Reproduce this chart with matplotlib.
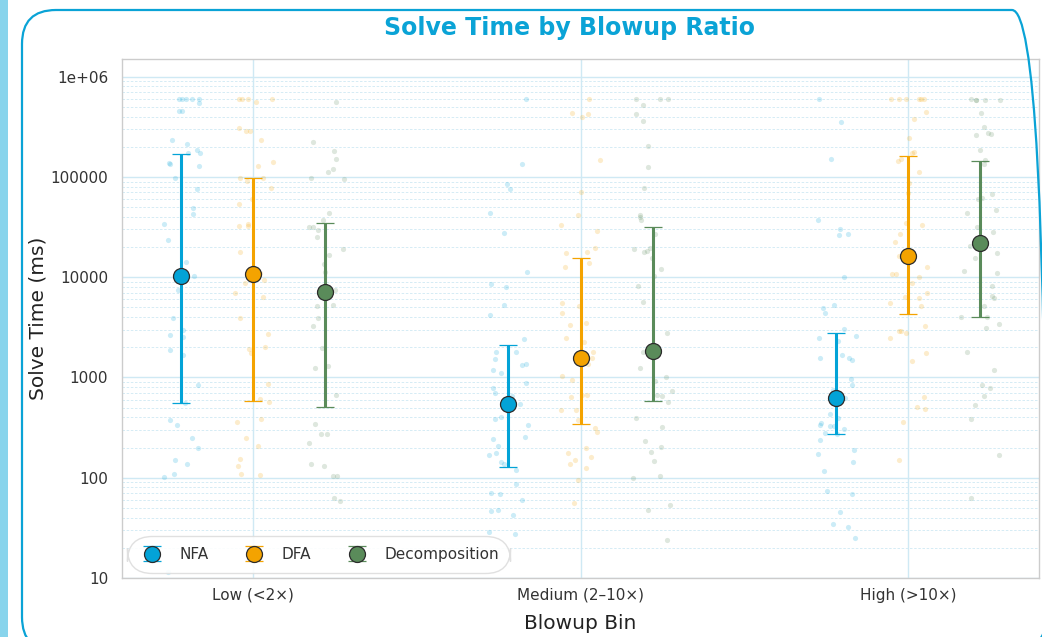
import matplotlib
matplotlib.use("Agg")
import matplotlib.pyplot as plt
from matplotlib.patches import FancyBboxPatch, Rectangle
from matplotlib.transforms import IdentityTransform
import numpy as np

plt.rcParams['font.family'] = ['DejaVu Sans']

# ---------------- data ----------------
categories = ["Low (<2×)", "Medium (2–10×)", "High (>10×)"]
series_names = ["NFA", "DFA", "Decomposition"]

nfa_mean = [10260, 541, 621]
nfa_lo = [562, 128, 274]
nfa_hi = [171000, 2100, 2770]
dfa_mean = [10850, 1580, 16100]
dfa_lo = [589, 340, 4260]
dfa_hi = [98000, 15600, 162000]
dec_mean = [7110, 1840, 22100]
dec_lo = [505, 589, 4010]
dec_hi = [34400, 31600, 144600]

# individual observations (ms) and their horizontal jitter (category units)
nfa_low_vals = [600000, 600000, 600000, 600000, 600000, 542000, 458000, 458000, 234000, 212000,
                187000, 172000, 172000, 139000, 135000, 130000, 98600, 75500, 49200, 42900,
                33800, 23400, 14100, 10200, 7390, 3950, 3000, 2630, 2530, 1900, 1690, 841, 557,
                377, 334, 248, 200, 151, 137, 110, 101, 11.5]
nfa_low_jit = [-0.005, 0.004, 0.015, 0.035, 0.056, 0.056, -0.005, 0.004, -0.027, 0.017,
               0.048, 0.058, 0.022, -0.037, -0.034, 0.056, -0.018, 0.049, 0.036, 0.036,
               -0.052, -0.040, 0.015, 0.039, -0.008, -0.025, 0.007, -0.034, 0.005, -0.034, 0.005,
               0.051, 0.012, -0.034, -0.013, 0.033, 0.053, -0.017, 0.018, -0.020, -0.053, -0.040]
dfa_low_vals = [600000, 600000, 600000, 600000, 564000, 305000, 288000, 288000, 234000, 140000,
                130000, 98600, 91400, 97800, 77300, 60000, 54300, 32300, 33800, 32300, 17700,
                11000, 8810, 9290, 6900, 6400, 3890, 2690, 1940, 1990, 1760, 869, 611, 570, 389,
                358, 250, 206, 152, 130, 110, 107]
dfa_low_jit = [-0.042, -0.035, -0.015, 0.058, 0.009, -0.042, -0.022, -0.010, 0.025, 0.060,
               0.016, -0.040, -0.018, 0.030, 0.056, -0.004, -0.044, -0.042, -0.016, -0.016, -0.040,
               0.021, -0.024, 0.035, -0.056, 0.032, -0.040, 0.047, -0.012, 0.036, -0.005, 0.047,
               0.021, 0.048, 0.023, -0.050, -0.021, 0.014, -0.041, -0.045, -0.036, 0.022]
dec_low_vals = [564000, 224000, 180000, 150000, 121000, 111000, 97800, 94800, 43900, 36800,
                31500, 32000, 29400, 25300, 18900, 16500, 13600, 11200, 7390, 5150, 5240, 3950,
                3290, 1970, 1240, 1300, 670, 342, 276, 276, 223, 137, 130, 103, 103, 62.2, 58.5]
dec_low_jit = [0.034, -0.036, 0.028, 0.032, 0.023, 0.008, -0.043, 0.057, 0.011, -0.007,
               -0.049, -0.036, -0.022, -0.025, 0.054, 0.012, -0.003, 0.000, 0.031, -0.025, 0.025,
               -0.022, -0.036, -0.010, -0.031, 0.010, 0.034, -0.031, -0.011, 0.005, -0.048, -0.042,
               -0.002, 0.025, 0.036, 0.028, 0.046]

nfa_med_vals = [600000, 136000, 85900, 76000, 43900, 27700, 11200, 8530, 8030, 5240, 4170, 2400,
                1800, 1800, 1520, 1320, 1360, 1200, 1100, 890, 785, 701, 650, 545, 384, 404, 334,
                242, 253, 206, 177, 169, 142, 136, 119, 86.9, 69.8, 68.7, 59.8, 46.1, 47.9, 42.1,
                28.7, 27.4]
nfa_med_jit = [0.055, 0.041, -0.005, 0.004, -0.057, -0.014, 0.056, -0.052, -0.006, -0.014, -0.056,
               0.047, -0.037, 0.023, -0.040, 0.042, 0.055, -0.048, -0.023, 0.054, -0.047, -0.041,
               0.011, 0.035, -0.040, -0.023, 0.059, -0.048, 0.050, -0.033, -0.037, -0.059, -0.024,
               -0.014, 0.024, 0.022, -0.052, -0.026, 0.040, -0.054, -0.031, 0.015, -0.058, 0.021]
dfa_med_vals = [600000, 434000, 400000, 428000, 147000, 70900, 41600, 32800, 28800, 19500, 17500,
                17800, 13800, 12600, 5510, 5110, 4350, 3340, 3520, 2470, 2260, 1810, 1560, 1350,
                1030, 944, 645, 670, 670, 479, 474, 375, 310, 284, 199, 177, 160, 149, 138, 124,
                94, 56.2]
dfa_med_jit = [0.026, -0.027, 0.005, 0.024, 0.060, 0.003, -0.008, -0.060, 0.050, 0.044, -0.043,
               0.021, 0.027, -0.048, -0.055, -0.004, -0.056, -0.033, 0.018, -0.043, 0.010, 0.038,
               0.036, 0.023, -0.056, -0.027, -0.030, 0.005, 0.021, -0.059, -0.013, -0.009, 0.043,
               0.050, 0.016, -0.039, 0.033, -0.018, -0.032, 0.016, -0.007, -0.019]
dec_med_vals = [600000, 600000, 600000, 518000, 428000, 365000, 205000, 126000, 77900, 41600,
                40100, 37100, 26700, 18900, 17800, 18300, 19500, 15500, 12200, 10200, 8220, 5680,
                2750, 1810, 1240, 1020, 924, 734, 665, 650, 566, 393, 319, 233, 203, 180, 147,
                99.1, 105, 53, 47.2, 23.7]
dec_med_jit = [-0.052, 0.024, 0.046, -0.030, -0.052, -0.028, -0.013, -0.014, -0.025, -0.039,
               -0.039, -0.034, 0.007, -0.058, -0.025, -0.016, -0.008, -0.001, 0.026, 0.005, -0.044,
               -0.030, 0.043, -0.030, -0.038, 0.041, 0.007, 0.059, 0.015, 0.030, 0.046, -0.050,
               0.028, -0.024, 0.027, -0.006, 0.004, -0.059, 0.022, 0.053, -0.013, 0.044]

nfa_high_vals = [600000, 357000, 152000, 37100, 30400, 26100, 27100, 10000, 4920, 4420, 5270,
                 3020, 2450, 2300, 2570, 1550, 1660, 1560, 1480, 960, 841, 757, 625, 430, 398, 352,
                 332, 329, 329, 307, 282, 272, 240, 187, 174, 142, 118, 73.6, 68.7, 45.4, 34.3,
                 32, 24.8]
nfa_high_jit = [-0.052, 0.014, -0.015, -0.054, 0.012, 0.008, 0.037, 0.026, -0.039, -0.032, -0.005,
                0.025, -0.052, 0.007, 0.062, -0.049, 0.017, 0.041, 0.048, 0.045, 0.048, -0.010,
                0.028, -0.019, 0.007, -0.047, -0.050, -0.017, -0.005, 0.026, -0.033, 0.002, -0.048,
                0.056, -0.056, 0.052, -0.038, -0.026, 0.050, 0.013, -0.009, 0.038, 0.058]
dfa_high_vals = [600000, 600000, 600000, 600000, 600000, 600000, 441000, 379000, 247000, 174000,
                 178000, 145000, 152000, 112000, 87300, 69900, 34600, 33300, 26900, 22600, 16200,
                 12600, 10700, 10700, 10000, 8730, 6900, 6300, 6150, 5480, 5200, 2930, 2880, 2800,
                 3260, 2470, 1760, 1460, 635, 508, 482, 361, 149]
dfa_high_jit = [-0.053, -0.028, -0.005, 0.035, 0.040, 0.048, 0.056, 0.017, 0.004, 0.011, 0.019,
                -0.032, -0.022, 0.033, 0.004, 0.000, -0.005, 0.044, -0.023, -0.041, -0.026, 0.058,
                -0.049, -0.037, 0.034, 0.012, 0.059, -0.010, 0.034, -0.056, 0.040, -0.028, -0.020,
                -0.005, 0.053, -0.054, 0.054, 0.011, 0.049, 0.027, 0.053, -0.014, -0.026]
dec_high_vals = [600000, 590000, 590000, 580000, 590000, 438000, 318000, 260000, 277000, 268000,
                 185000, 135000, 148000, 66800, 60000, 61900, 47300, 43500, 31500, 28100, 20700,
                 17500, 15700, 11600, 10900, 8150, 6440, 6150, 5110, 3980, 3980, 3110, 3410, 1780,
                 1190, 841, 792, 660, 537, 386, 167, 62.2]
dec_high_jit = [-0.028, -0.012, 0.014, -0.011, 0.060, 0.004, 0.011, -0.012, 0.023, 0.034, -0.001,
                0.011, 0.015, 0.037, -0.007, 0.006, 0.048, -0.041, -0.009, 0.040, -0.030, 0.052,
                -0.016, -0.049, 0.053, 0.036, 0.037, 0.044, 0.011, -0.058, 0.022, 0.018, 0.059,
                -0.041, 0.044, 0.007, 0.030, 0.011, -0.016, -0.027, 0.057, -0.028]

ytick_values = [10, 100, 1000, 10000, 100000, 1000000]
ytick_labels = ["10", "100", "1000", "10000", "100000", "1e+06"]

# ---------------- styling ----------------
colors = ["#03A3D7", "#F4A300", "#5A8B5A"]
offsets = [-0.22, 0.0, 0.22]
grid_col = "#cfe9f4"

W, H = 1042, 637
fig = plt.figure(figsize=(W / 100, H / 100), dpi=100)
fig.patch.set_facecolor("white")

# left accent strip and rounded frame (pixel coordinates)
fig.add_artist(Rectangle((0, 0), 8, H, transform=IdentityTransform(),
                         facecolor="#88D4EC", edgecolor="none", zorder=0))
fig.add_artist(FancyBboxPatch((22, -14), 1024, H - 10 + 14, transform=IdentityTransform(),
                              boxstyle="round,pad=0,rounding_size=34", facecolor="none",
                              edgecolor="#0AA3D6", linewidth=1.6, zorder=1))

ax = fig.add_axes([122 / W, 59 / H, (1039 - 122) / W, (578 - 59) / H])
ax.set_yscale("log")
ax.set_ylim(10, 1.5e6)
ax.set_xlim(-0.4, 2.4)

means = [nfa_mean, dfa_mean, dec_mean]
los = [nfa_lo, dfa_lo, dec_lo]
his = [nfa_hi, dfa_hi, dec_hi]
points = [
    [(nfa_low_vals, nfa_low_jit), (nfa_med_vals, nfa_med_jit), (nfa_high_vals, nfa_high_jit)],
    [(dfa_low_vals, dfa_low_jit), (dfa_med_vals, dfa_med_jit), (dfa_high_vals, dfa_high_jit)],
    [(dec_low_vals, dec_low_jit), (dec_med_vals, dec_med_jit), (dec_high_vals, dec_high_jit)],
]

xs = np.arange(len(categories))
handles = []
for si, name in enumerate(series_names):
    for ci in range(len(categories)):
        vals, jit = points[si][ci]
        ax.scatter(xs[ci] + offsets[si] + np.array(jit), vals, s=14, color=colors[si],
                   alpha=0.2, linewidths=0, zorder=2)
    m = np.array(means[si], dtype=float)
    yerr = [m - np.array(los[si]), np.array(his[si]) - m]
    h = ax.errorbar(xs + offsets[si], m, yerr=yerr, fmt="o", color=colors[si],
                    ecolor=colors[si], elinewidth=2.2, capsize=6.5, capthick=1.5,
                    markersize=11.5, markerfacecolor=colors[si], markeredgecolor="#2b2b2b",
                    markeredgewidth=0.9, zorder=4, label=name)
    handles.append(h)

ax.set_yticks(ytick_values)
ax.set_yticklabels(ytick_labels)
ax.yaxis.set_minor_formatter(matplotlib.ticker.NullFormatter())
ax.set_xticks(xs)
ax.set_xticklabels(categories)
ax.tick_params(axis="y", which="both", length=0, labelsize=11, labelcolor="#333333", pad=10)
ax.tick_params(axis="x", which="both", length=0, labelsize=11, labelcolor="#333333", pad=7)

ax.grid(True, which="major", axis="y", color=grid_col, linewidth=1.0, zorder=0)
ax.grid(True, which="minor", axis="y", color=grid_col, linewidth=0.6, linestyle=(0, (3, 2)), zorder=0)
ax.grid(True, which="major", axis="x", color=grid_col, linewidth=1.0, zorder=0)
ax.set_axisbelow(True)
for sp in ax.spines.values():
    sp.set_color("#cccccc")
    sp.set_linewidth(1.0)

ax.set_ylabel("Solve Time (ms)", fontsize=14.5, color="#222222")
ax.yaxis.set_label_coords(-0.0807, 0.5)
ax.set_xlabel("Blowup Bin", fontsize=14.5, color="#222222", labelpad=8)

fig.text(569 / W, 1 - 28 / H, "Solve Time by Blowup Ratio", ha="center", va="center",
         fontsize=17, fontweight="bold", color="#0AA3D6")

leg = ax.legend(handles=handles, loc="lower left", ncol=3, fontsize=11, frameon=True,
                borderaxespad=0.35, columnspacing=2.1, handletextpad=0.9, handlelength=1.8,
                borderpad=0.7, fancybox=True)
leg.get_frame().set_edgecolor("#dddddd")
leg.get_frame().set_facecolor("white")
leg.get_frame().set_alpha(0.9)
leg.get_frame().set_boxstyle("round,pad=0,rounding_size=1.6")
for t in leg.get_texts():
    t.set_color("#333333")

fig.savefig("out.png", dpi=100)
